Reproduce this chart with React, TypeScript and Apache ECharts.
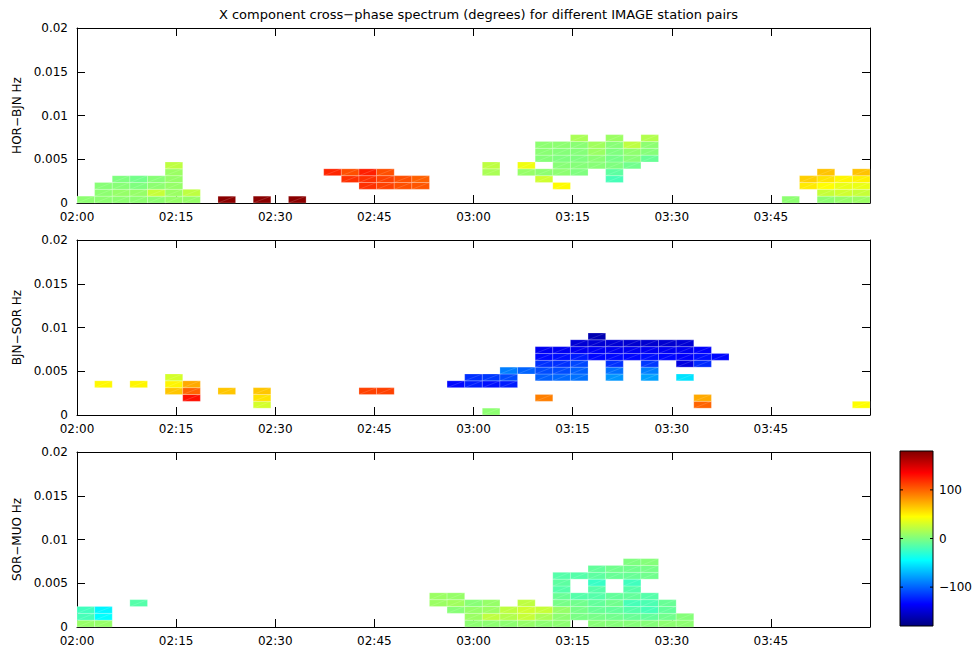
import React, { useEffect, useRef } from 'react';
import * as echarts from 'echarts';

// Labels
const TITLE = 'X component cross−phase spectrum (degrees) for different IMAGE station pairs';
const PAIR_LABELS = ['HOR−BJN Hz', 'BJN−SOR Hz', 'SOR−MUO Hz'];
const TIME_TICKS = ['02:00', '02:15', '02:30', '02:45', '03:00', '03:15', '03:30', '03:45'];
const PHASE_TICKS = [100, 0, -100];

// Spectral resolution of the cross-spectrum
const SEGMENT_SECONDS = 160; // width of one time bin
const FREQ_STEP = 1 / 1280; // height of one frequency bin (Hz)
const PHASE_MIN = -180;
const PHASE_MAX = 180;

// Cells: [time bin, frequency bin, cross-phase in degrees]
const horBjnCells: [number, number, number][] = [
  [0, 0, 5],
  [1, 0, 5], [1, 1, 5], [1, 2, 3],
  [2, 0, 5], [2, 1, 8], [2, 2, 3], [2, 3, 0],
  [3, 0, 5], [3, 1, 8], [3, 2, 0], [3, 3, -4],
  [4, 0, 5], [4, 1, 25], [4, 2, 5], [4, 3, 3],
  [5, 0, 8], [5, 1, 10], [5, 2, 8], [5, 3, 8], [5, 4, 10], [5, 5, 22],
  [6, 0, 8], [6, 1, 22],
  [8, 0, 176], [10, 0, 176], [12, 0, 176],
  [14, 4, 122],
  [15, 3, 118], [15, 4, 107],
  [16, 2, 118], [16, 3, 118], [16, 4, 124],
  [17, 2, 112], [17, 3, 112], [17, 4, 107],
  [18, 2, 107], [18, 3, 107],
  [19, 2, 105], [19, 3, 101],
  [23, 4, 15], [23, 5, 22],
  [25, 4, 8], [25, 5, 40],
  [26, 3, 28], [26, 4, 5], [26, 6, 2], [26, 7, 4], [26, 8, 5],
  [27, 2, 46], [27, 4, 5], [27, 5, 3], [27, 6, 0], [27, 7, 2], [27, 8, 5],
  [28, 4, 0], [28, 5, 2], [28, 6, 0], [28, 7, 2], [28, 8, 4], [28, 9, 15],
  [29, 5, 3], [29, 6, 4], [29, 7, 10], [29, 8, 12],
  [30, 3, -20], [30, 4, -12], [30, 5, 0], [30, 6, -3], [30, 7, 0], [30, 8, 3], [30, 9, 10],
  [31, 5, -5], [31, 6, 3], [31, 7, 6], [31, 8, 22],
  [32, 6, -8], [32, 7, 2], [32, 8, 5], [32, 9, 18],
  [40, 0, 5],
  [41, 2, 52], [41, 3, 62],
  [42, 0, 5], [42, 1, 25], [42, 2, 45], [42, 3, 55], [42, 4, 66],
  [43, 0, 8], [43, 1, 28], [43, 2, 38], [43, 3, 48],
  [44, 0, 10], [44, 1, 25], [44, 2, 38], [44, 3, 50], [44, 4, 66],
];

const bjnSorCells: [number, number, number][] = [
  [1, 4, 47], [3, 4, 48],
  [5, 3, 65], [5, 4, 48], [5, 5, 30],
  [6, 2, 130], [6, 3, 100], [6, 4, 75],
  [8, 3, 65],
  [10, 1, 30], [10, 2, 55], [10, 3, 65],
  [16, 3, 112], [17, 3, 112],
  [21, 4, -133],
  [22, 4, -125], [22, 5, -118],
  [23, 0, 5], [23, 4, -130], [23, 5, -115],
  [24, 4, -125], [24, 5, -108], [24, 6, -90],
  [25, 6, -100],
  [26, 2, 90], [26, 5, -101], [26, 6, -108], [26, 7, -118], [26, 8, -132], [26, 9, -140],
  [27, 5, -98], [27, 6, -108], [27, 7, -118], [27, 8, -130], [27, 9, -140],
  [28, 5, -95], [28, 6, -101], [28, 7, -110], [28, 8, -125], [28, 9, -140], [28, 10, -150],
  [29, 8, -133], [29, 9, -138], [29, 10, -150], [29, 11, -162],
  [30, 5, -82], [30, 6, -95], [30, 7, -118], [30, 8, -132], [30, 9, -140], [30, 10, -150],
  [31, 8, -133], [31, 9, -140], [31, 10, -152],
  [32, 5, -78], [32, 6, -90], [32, 7, -115], [32, 8, -130], [32, 9, -140], [32, 10, -152],
  [33, 8, -133], [33, 9, -140], [33, 10, -152],
  [34, 5, -55], [34, 7, -146], [34, 8, -136], [34, 9, -140], [34, 10, -150],
  [35, 1, 100], [35, 2, 75], [35, 7, -120], [35, 8, -130], [35, 9, -136],
  [36, 8, -133],
  [44, 1, 45],
];

const sorMuoCells: [number, number, number][] = [
  [0, 0, 8], [0, 1, -20], [0, 2, -22],
  [1, 0, 8], [1, 1, -45], [1, 2, -48],
  [3, 3, -15],
  [20, 3, 10], [20, 4, 10],
  [21, 2, 3], [21, 3, 12], [21, 4, 8],
  [22, 0, 5], [22, 1, 10], [22, 2, 8], [22, 3, 3],
  [23, 0, 5], [23, 1, 22], [23, 2, 10], [23, 3, 8],
  [24, 0, 5], [24, 1, 18], [24, 2, 22],
  [25, 0, 8], [25, 1, 25], [25, 2, 28], [25, 3, 22],
  [26, 0, 5], [26, 1, 15], [26, 2, 25],
  [27, 0, 5], [27, 1, 5], [27, 2, 8], [27, 3, -3], [27, 4, -8], [27, 5, -15], [27, 6, -12], [27, 7, -15],
  [28, 1, -2], [28, 2, -3], [28, 3, -5], [28, 4, -15], [28, 7, -15],
  [29, 0, 3], [29, 1, -3], [29, 2, -8], [29, 3, -10], [29, 4, -15], [29, 5, -15], [29, 6, -25], [29, 7, -12], [29, 8, -10],
  [30, 0, 2], [30, 1, -5], [30, 2, -10], [30, 3, -5], [30, 4, -10], [30, 7, -8], [30, 8, -5],
  [31, 0, 2], [31, 1, -8], [31, 2, -15], [31, 3, -20], [31, 4, -10], [31, 5, -15], [31, 6, -22], [31, 7, -8], [31, 8, -5], [31, 9, 0],
  [32, 0, 2], [32, 1, -10], [32, 2, -20], [32, 3, -18], [32, 4, -15], [32, 7, -5], [32, 8, -3], [32, 9, 2],
  [33, 0, 5], [33, 1, -5], [33, 2, -10], [33, 3, -8],
  [34, 0, 5], [34, 1, 2],
];

const PANELS = [horBjnCells, bjnSorCells, sorMuoCells];

// jet colormap, evenly spaced stops from -180 to 180 degrees
const JET = ['#00007F', '#0000FF', '#007FFF', '#00FFFF', '#7FFF7F', '#FFFF00', '#FF7F00', '#FF0000', '#7F0000'];

const FONT = 'DejaVu Sans';
const FONT_SIZE = 12;
const DT_MIN = SEGMENT_SECONDS / 60;

// Layout (pixels)
const PLOT_LEFT = 77;
const PLOT_WIDTH = 793;
const PLOT_HEIGHT = 175;
const PLOT_TOPS = [28, 240, 452];
const CBAR = { x: 900, y: 451, w: 33, h: 175 };

function timeLabel(v: number): string {
  const i = Math.round(v / 15);
  return i < TIME_TICKS.length ? TIME_TICKS[i] : '';
}

function freqLabel(v: number): string {
  return v === 0 ? '0' : String(+v.toFixed(3));
}

function buildOption(): echarts.EChartsOption {
  const grid: any[] = [];
  const xAxis: any[] = [];
  const yAxis: any[] = [];
  const series: any[] = [];

  const axisLine = { show: true, onZero: false, lineStyle: { color: '#000', width: 1 } };
  const tick = { show: true, inside: true, length: 8, lineStyle: { color: '#000', width: 1 } };
  const labelStyle = { color: '#000', fontFamily: FONT, fontSize: FONT_SIZE };

  PANELS.forEach((cells, p) => {
    grid.push({
      left: PLOT_LEFT,
      top: PLOT_TOPS[p],
      width: PLOT_WIDTH,
      height: PLOT_HEIGHT,
      containLabel: false,
      outerBoundsMode: 'none',
    });
    // bottom time axis + top box edge
    xAxis.push({
      type: 'value', gridIndex: p, min: 0, max: 120, interval: 15, position: 'bottom',
      axisLine, axisTick: tick, splitLine: { show: false },
      axisLabel: { ...labelStyle, margin: 8, formatter: timeLabel, showMaxLabel: false },
    });
    xAxis.push({
      type: 'value', gridIndex: p, min: 0, max: 120, interval: 15, position: 'top',
      axisLine, axisTick: tick, splitLine: { show: false }, axisLabel: { show: false },
    });
    // left frequency axis + right box edge
    yAxis.push({
      type: 'value', gridIndex: p, min: 0, max: 0.02, interval: 0.005, position: 'left',
      name: PAIR_LABELS[p], nameLocation: 'middle', nameGap: 54, nameRotate: 90,
      nameTextStyle: { ...labelStyle },
      axisLine, axisTick: tick, splitLine: { show: false },
      axisLabel: { ...labelStyle, margin: 9, formatter: freqLabel },
    });
    yAxis.push({
      type: 'value', gridIndex: p, min: 0, max: 0.02, interval: 0.005, position: 'right',
      axisLine, axisTick: tick, splitLine: { show: false }, axisLabel: { show: false },
    });

    series.push({
      type: 'custom',
      name: PAIR_LABELS[p],
      xAxisIndex: p * 2,
      yAxisIndex: p * 2,
      data: cells.map(([ti, fi, ph]) => [ti * DT_MIN, fi * FREQ_STEP, ph]),
      renderItem: (_params: any, api: any) => {
        const t = api.value(0);
        const f = api.value(1);
        const a = api.coord([t, f]);
        const b = api.coord([t + DT_MIN, f + FREQ_STEP]);
        const color = api.visual('color');
        return {
          type: 'group',
          children: [
            {
              type: 'rect',
              shape: { x: a[0], y: b[1], width: b[0] - a[0], height: a[1] - b[1] },
              style: { fill: color, stroke: 'rgba(255,255,255,0.3)', lineWidth: 0.7 },
            },
            {
              type: 'line',
              shape: { x1: a[0], y1: a[1], x2: b[0], y2: b[1] },
              style: { stroke: 'rgba(255,255,255,0.25)', lineWidth: 0.6 },
            },
          ],
        };
      },
    });
  });

  // Colorbar: jet gradient, 180 at the top
  const stops = JET.slice().reverse().map((c, i) => ({ offset: i / (JET.length - 1), color: c }));
  const graphic: any[] = [
    {
      type: 'rect',
      shape: { x: CBAR.x, y: CBAR.y, width: CBAR.w, height: CBAR.h },
      style: { fill: new echarts.graphic.LinearGradient(0, 0, 0, 1, stops), stroke: '#000', lineWidth: 1 },
    },
  ];
  PHASE_TICKS.forEach((v) => {
    const y = CBAR.y + ((PHASE_MAX - v) / (PHASE_MAX - PHASE_MIN)) * CBAR.h;
    graphic.push(
      { type: 'line', shape: { x1: CBAR.x, y1: y, x2: CBAR.x + 3, y2: y }, style: { stroke: '#000', lineWidth: 1 } },
      { type: 'line', shape: { x1: CBAR.x + CBAR.w - 3, y1: y, x2: CBAR.x + CBAR.w, y2: y }, style: { stroke: '#000', lineWidth: 1 } },
      {
        type: 'text', x: CBAR.x + CBAR.w + 6, y,
        style: { text: v < 0 ? '−' + Math.abs(v) : String(v), fill: '#000', font: `${FONT_SIZE}px "${FONT}"`, verticalAlign: 'middle' },
      }
    );
  });

  return {
    animation: false,
    backgroundColor: '#fff',
    title: {
      text: TITLE,
      left: PLOT_LEFT + PLOT_WIDTH / 2,
      top: 3,
      textAlign: 'center',
      textStyle: { fontFamily: FONT, fontSize: 13, fontWeight: 'normal', color: '#000' },
    },
    visualMap: {
      type: 'continuous',
      show: false,
      min: PHASE_MIN,
      max: PHASE_MAX,
      dimension: 2,
      seriesIndex: [0, 1, 2],
      inRange: { color: JET },
    },
    grid,
    xAxis,
    yAxis,
    series,
    graphic,
  };
}

export default function App() {
  const ref = useRef<HTMLDivElement>(null);
  useEffect(() => {
    if (!ref.current) return;
    const chart = echarts.init(ref.current, undefined, { renderer: 'svg' });
    chart.setOption(buildOption());
    return () => chart.dispose();
  }, []);
  return (
    <div
      ref={ref}
      style={{ position: 'fixed', left: 0, top: 0, width: 972, height: 653, background: '#fff' }}
    />
  );
}
